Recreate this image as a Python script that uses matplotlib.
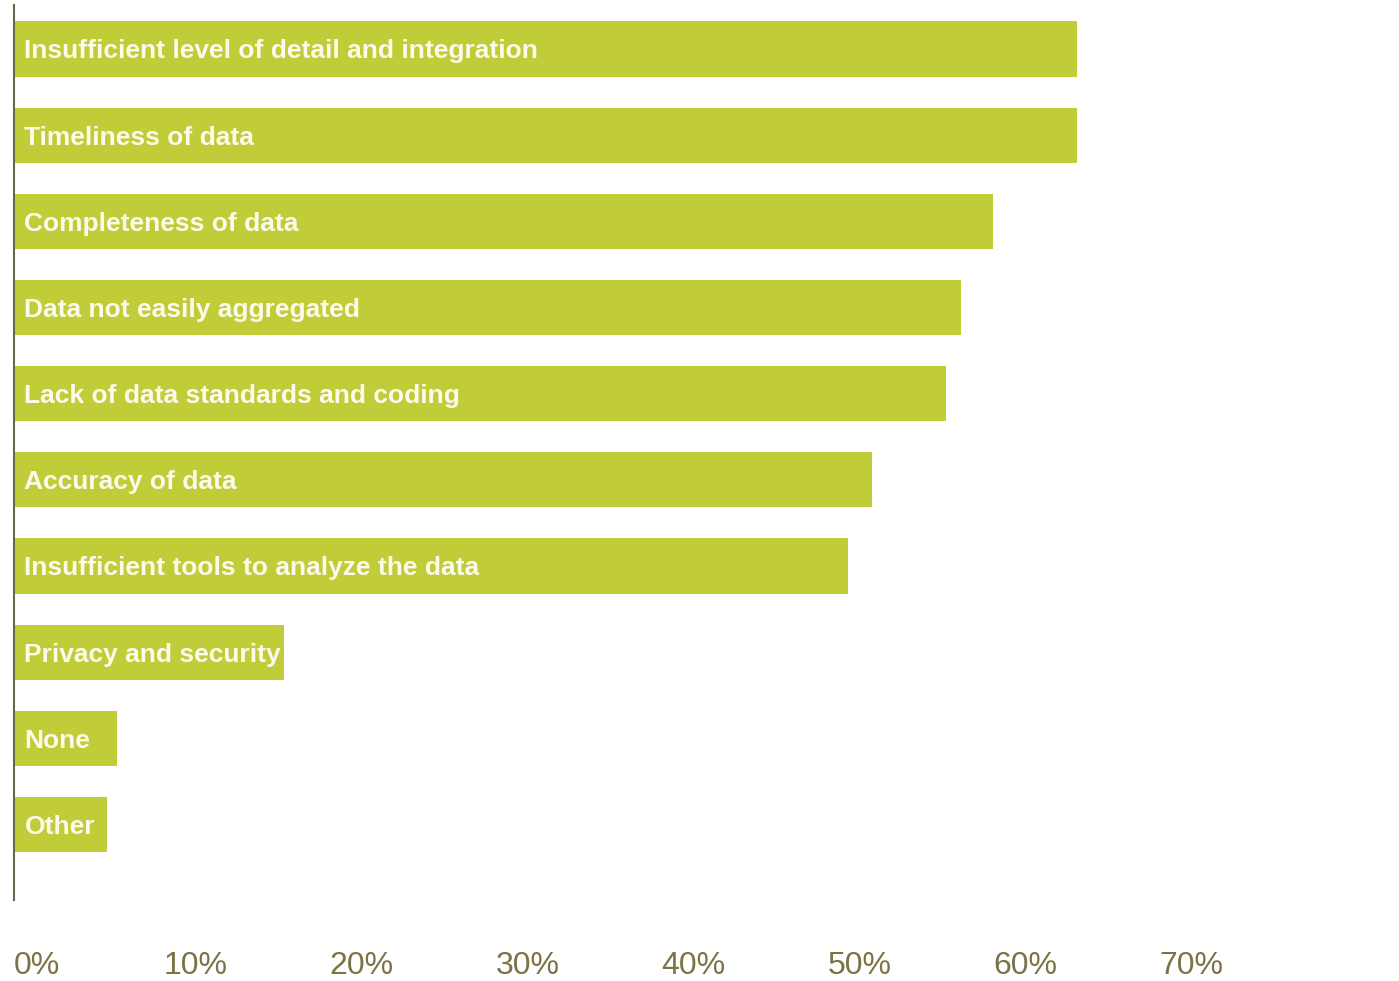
import matplotlib
matplotlib.use("Agg")
import matplotlib.pyplot as plt
from matplotlib.transforms import offset_copy

categories = [
    "Insufficient level of detail and integration",
    "Timeliness of data",
    "Completeness of data",
    "Data not easily aggregated",
    "Lack of data standards and coding",
    "Accuracy of data",
    "Insufficient tools to analyze the data",
    "Privacy and security",
    "None",
    "Other",
]
values = [64.1, 64.1, 59.0, 57.1, 56.2, 51.7, 50.3, 16.3, 6.2, 5.6]
tick_values = [0, 10, 20, 30, 40, 50, 60, 70]
tick_labels = ["0%", "10%", "20%", "30%", "40%", "50%", "60%", "70%"]

BAR = "#c0cc38"
TICK = "#7b7245"

W, H = 1399, 981
fig = plt.figure(figsize=(W / 100, H / 100), dpi=100)
ax = fig.add_axes([14 / W, 81 / H, (W - 14) / W, (900 - 5) / H])

y = list(range(len(categories)))
ax.barh(y, values, height=0.64, color=BAR, edgecolor="none", zorder=2)
ax.set_xlim(0, 83.5)
ax.set_ylim(9.876, -0.51)

for yi, lab in zip(y, categories):
    ax.annotate(lab, xy=(0, yi), xytext=(7.5, 0), textcoords="offset points",
                ha="left", va="center_baseline", color="#fbfbec", fontsize=19,
                fontweight="bold", family="Liberation Sans", zorder=3)

for s in ["top", "right", "bottom"]:
    ax.spines[s].set_visible(False)
ax.spines["left"].set_color("#6b6350")
ax.spines["left"].set_linewidth(1.5)
ax.set_yticks([])
ax.set_xticks([])

# x tick labels placed below the axis
for v, lab in zip(tick_values, tick_labels):
    dx = 0 if v == 0 else -16
    tr = offset_copy(ax.get_xaxis_transform(), fig=fig, x=dx, y=0, units="dots")
    ax.text(v, -0.074, lab, transform=tr, ha="left", va="center",
            color=TICK, fontsize=23, family="Liberation Sans", clip_on=False)

fig.savefig("out.png", dpi=100, facecolor="white")
